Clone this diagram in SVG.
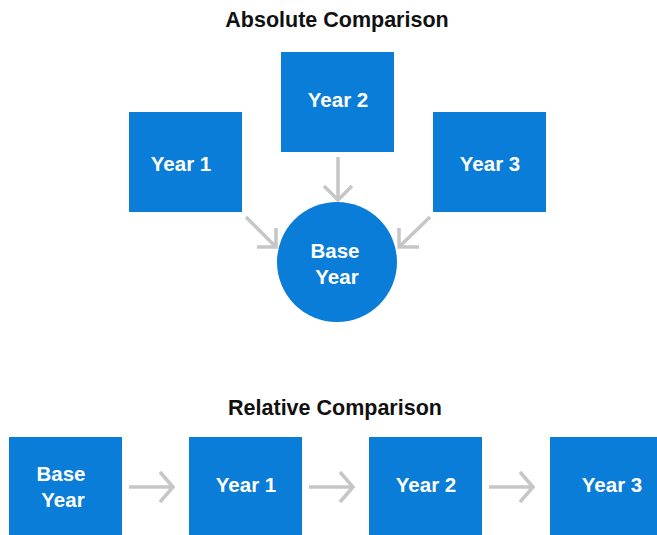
<svg xmlns="http://www.w3.org/2000/svg" width="657" height="535" viewBox="0 0 657 535">
<style>
.title{font-family:"Liberation Sans",Arial,sans-serif;font-weight:bold;font-size:21.5px;fill:#111;text-anchor:middle}
.lbl{font-family:"Liberation Sans",Arial,sans-serif;font-weight:bold;font-size:20.5px;fill:#fff;text-anchor:middle}
.box{fill:#0a7dd8}
.arr{fill:none;stroke:#c6c6c6;stroke-width:3.5;stroke-linecap:butt;stroke-linejoin:miter}
</style>
<rect width="657" height="535" fill="#fff"/>
<text class="title" x="337" y="27">Absolute Comparison</text>
<text class="title" x="335" y="415">Relative Comparison</text>
<g id="connectors">
<path class="arr" d="M338,157 V200 M324,186 L338,200 L352,186"/>
<path class="arr" d="M246,217 L276,247 M257,247 H276 V228"/>
<path class="arr" d="M430,217 L399,247 M419,247 H399 V228"/>
<path class="arr" d="M129,487 H172 M160,472 L173,487 L160,502"/>
<path class="arr" d="M309,487 H352 M340,472 L353,487 L340,502"/>
<path class="arr" d="M489,487 H532 M520,472 L533,487 L520,502"/>
</g>
<g id="abs-year1"><rect class="box" x="129" y="112" width="113" height="100"/><text class="lbl" x="181" y="171">Year 1</text></g>
<g id="abs-year2"><rect class="box" x="281" y="52" width="113" height="100"/><text class="lbl" x="338" y="107">Year 2</text></g>
<g id="abs-year3"><rect class="box" x="433" y="112" width="113" height="100"/><text class="lbl" x="490" y="171">Year 3</text></g>
<g id="abs-base"><circle class="box" cx="337" cy="262" r="60"/><text class="lbl" x="335" y="258">Base</text><text class="lbl" x="337" y="284">Year</text></g>
<g id="rel-base"><rect class="box" x="9" y="437" width="113" height="110"/><text class="lbl" x="61" y="481">Base</text><text class="lbl" x="63" y="507">Year</text></g>
<g id="rel-year1"><rect class="box" x="189" y="437" width="113" height="110"/><text class="lbl" x="246" y="492">Year 1</text></g>
<g id="rel-year2"><rect class="box" x="369" y="437" width="113" height="110"/><text class="lbl" x="426" y="492">Year 2</text></g>
<g id="rel-year3"><rect class="box" x="550" y="437" width="113" height="110"/><text class="lbl" x="612" y="492">Year 3</text></g>
</svg>
